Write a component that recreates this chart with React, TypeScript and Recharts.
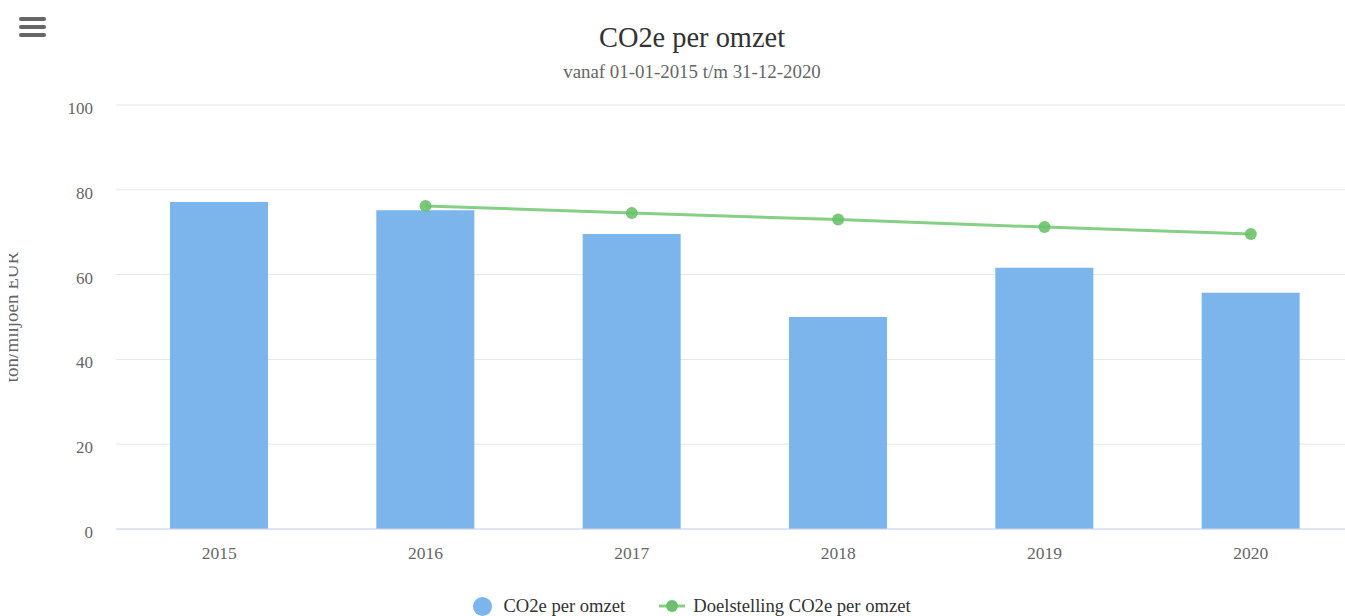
import React from "react";
import {
  ComposedChart,
  Bar,
  Line,
  XAxis,
  YAxis,
  CartesianGrid,
} from "recharts";

const years = ["2015", "2016", "2017", "2018", "2019", "2020"];
const emissions = [77.1, 75.2, 69.6, 50.0, 61.6, 55.7];
const targets = [null, 76.2, 74.5, 73.0, 71.2, 69.6];
const yTicks = [0, 20, 40, 60, 80, 100];

const FONT = "'Liberation Serif', 'Times New Roman', serif";
const BAR_COLOR = "#7cb5ec";
const LINE_COLOR = "#86cf86";
const DOT_COLOR = "#6cc26c";

const chartData = years.map((year, i) => ({
  year,
  emission: emissions[i],
  target: targets[i],
}));

// axis title sits half outside the chart, the left part is clipped away
const AxisTitle = (props: any) => {
  const vb = props.viewBox || {};
  const cy = vb.y + vb.height / 2;
  return (
    <g>
      <defs>
        <clipPath id="ytitle-clip">
          <rect x={9} y={0} width={60} height={616} />
        </clipPath>
      </defs>
      <g clipPath="url(#ytitle-clip)">
        <text
          x={18}
          y={cy}
          transform={`rotate(-90, 18, ${cy})`}
          textAnchor="middle"
          fill="#666666"
          fontSize={19}
          fontFamily={FONT}
        >
          ton/miljoen EUR
        </text>
      </g>
    </g>
  );
};

function Hamburger() {
  const bar: React.CSSProperties = {
    position: "absolute",
    left: 19,
    width: 27,
    height: 4,
    borderRadius: 2,
    background: "#666666",
  };
  return (
    <>
      <div style={{ ...bar, top: 17 }} />
      <div style={{ ...bar, top: 25 }} />
      <div style={{ ...bar, top: 33 }} />
    </>
  );
}

export default function App() {
  return (
    <div
      style={{
        position: "fixed",
        left: 0,
        top: 0,
        width: 1345,
        height: 616,
        overflow: "hidden",
        background: "#ffffff",
        fontFamily: FONT,
      }}
    >
      <Hamburger />
      <svg
        width={1384}
        height={90}
        style={{ position: "absolute", left: 0, top: 0 }}
      >
        <text
          x={692}
          y={47}
          textAnchor="middle"
          fontSize={28.4}
          fill="#333333"
          fontFamily={FONT}
        >
          CO2e per omzet
        </text>
        <text
          x={692}
          y={78}
          textAnchor="middle"
          fontSize={18.9}
          fill="#666666"
          fontFamily={FONT}
        >
          vanaf 01-01-2015 t/m 31-12-2020
        </text>
      </svg>

      <div style={{ position: "absolute", left: 0, top: 0 }}>
        <ComposedChart
          width={1380}
          height={616}
          data={chartData}
          margin={{ top: 105, right: 26, bottom: 57, left: 0 }}
        >
          <CartesianGrid vertical={false} stroke="#e6e6e6" strokeWidth={1} />
          <XAxis
            dataKey="year"
            height={30}
            tickLine={false}
            axisLine={{ stroke: "#ccd6eb" }}
            tick={{ fill: "#666666", fontSize: 17.5, fontFamily: FONT }}
            tickMargin={12}
          />
          <YAxis
            width={116}
            domain={[0, 100]}
            ticks={yTicks}
            axisLine={false}
            tickLine={false}
            tickMargin={17}
            tick={{ fill: "#666666", fontSize: 17, fontFamily: FONT, dy: 3 }}
            label={<AxisTitle />}
          />
          <Bar
            dataKey="emission"
            fill={BAR_COLOR}
            barSize={98}
            isAnimationActive={false}
          />
          <Line
            dataKey="target"
            stroke={LINE_COLOR}
            strokeWidth={3}
            dot={{ r: 6, fill: DOT_COLOR, stroke: "none", fillOpacity: 0.9 }}
            activeDot={false}
            connectNulls
            isAnimationActive={false}
          />
        </ComposedChart>
      </div>

      <div
        style={{
          position: "absolute",
          top: 594,
          left: 0,
          width: 1384,
          display: "flex",
          justifyContent: "center",
          alignItems: "center",
          fontSize: 18.6,
          color: "#333333",
          lineHeight: "24px",
        }}
      >
        <span
          style={{
            display: "inline-block",
            width: 19,
            height: 19,
            borderRadius: "50%",
            background: BAR_COLOR,
            marginRight: 11,
          }}
        />
        <span style={{ marginRight: 34 }}>CO2e per omzet</span>
        <svg width={26} height={14} style={{ marginRight: 8 }}>
          <line x1={0} y1={7} x2={26} y2={7} stroke={LINE_COLOR} strokeWidth={3} />
          <circle cx={13} cy={7} r={6} fill={DOT_COLOR} />
        </svg>
        <span>Doelstelling CO2e per omzet</span>
      </div>
    </div>
  );
}
